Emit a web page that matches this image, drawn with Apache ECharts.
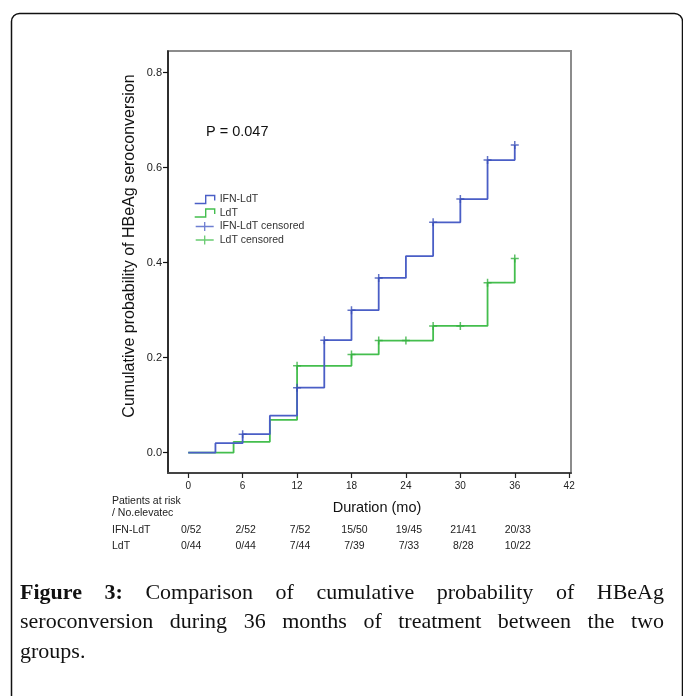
<!DOCTYPE html>
<html>
<head>
<meta charset="utf-8">
<script src="https://cdn.jsdelivr.net/npm/echarts@6/dist/echarts.min.js"></script>
<style>
  html, body { margin: 0; padding: 0; background: #fff; }
  #chart { width: 683px; height: 696px; }
</style>
</head>
<body>
<div id="chart"></div>
<script>
// Kaplan-Meier steps: month where the curve jumps, and the new level
var ifnMonths = [0, 3, 6, 9, 12, 15, 18, 21, 24, 27, 30, 33, 36];
var ifnValues = [0, 0.020, 0.039, 0.078, 0.137, 0.237, 0.300, 0.368, 0.414, 0.485, 0.534, 0.616, 0.648];
var ldtMonths = [0, 5, 9, 12, 18, 21, 27, 33, 36];
var ldtValues = [0, 0.023, 0.069, 0.183, 0.207, 0.236, 0.267, 0.358, 0.409];

// censored marks
var ifnCensorMonths = [6, 12, 15, 18, 21, 27, 30, 33, 36];
var ifnCensorValues = [0.039, 0.137, 0.237, 0.300, 0.368, 0.485, 0.534, 0.616, 0.648];
var ldtCensorMonths = [12, 18, 21, 24, 27, 30, 33, 36];
var ldtCensorValues = [0.183, 0.207, 0.236, 0.236, 0.267, 0.267, 0.358, 0.409];

var xTicks = [0, 6, 12, 18, 24, 30, 36, 42];
var yTicks = [0, 0.2, 0.4, 0.6, 0.8];

// patients at risk table
var riskMonths = [0, 6, 12, 18, 24, 30, 36];
var ifnRisk = ['0/52', '2/52', '7/52', '15/50', '19/45', '21/41', '20/33'];
var ldtRisk = ['0/44', '0/44', '7/44', '7/39', '7/33', '8/28', '10/22'];

var BLUE = '#4a5ec6';
var GREEN = '#44be4e';
var SANS = '"Liberation Sans", Arial, sans-serif';
var SERIF = '"Liberation Serif", "Times New Roman", serif';
var crossIcon = 'path://M0,5L10,5M5,0L5,10';
var crossLegend = 'path://M0,5L20,5M10,0L10,10';
var stepIcon = 'path://M0,9L11,9L11,1L20,1L20,6';

function zip(a, b) {
  return a.map(function (v, i) { return [v, b[i]]; });
}

var chart = echarts.init(document.getElementById('chart'));

var option = {
  animation: false,
  grid: {
    left: 168, top: 51, width: 403, height: 422,
    show: true, borderColor: '#8c8c8c', borderWidth: 2
  },
  xAxis: {
    type: 'value', min: -2.23, max: 42.2,
    axisLine: { onZero: false, lineStyle: { color: '#444', width: 2 } },
    axisTick: { show: true, customValues: xTicks, length: 5, lineStyle: { color: '#222', width: 1.2 } },
    axisLabel: { customValues: xTicks, fontSize: 10, color: '#222', margin: 8, fontFamily: SANS },
    splitLine: { show: false }
  },
  yAxis: {
    type: 'value', min: -0.0427, max: 0.8457,
    axisLine: { show: true, onZero: false, lineStyle: { color: '#111', width: 1.5 } },
    axisTick: { show: true, customValues: yTicks, length: 5, lineStyle: { color: '#111', width: 1.2 } },
    axisLabel: {
      customValues: yTicks, fontSize: 11, color: '#222', margin: 6, fontFamily: SANS,
      formatter: function (v) { return v.toFixed(1); }
    },
    splitLine: { show: false }
  },
  legend: {
    orient: 'vertical', left: 194, top: 193, padding: 0,
    itemWidth: 20, itemHeight: 9, itemGap: 0.5,
    textStyle: { fontSize: 10.5, color: '#333', fontFamily: SANS, lineHeight: 13 },
    data: [
      { name: 'IFN-LdT', icon: stepIcon, itemStyle: { color: 'transparent', borderColor: BLUE, borderWidth: 1.4 } },
      { name: 'LdT', icon: stepIcon, itemStyle: { color: 'transparent', borderColor: GREEN, borderWidth: 1.4 } },
      { name: 'IFN-LdT censored', icon: crossLegend, itemStyle: { color: 'transparent', borderColor: BLUE, borderWidth: 1.3 } },
      { name: 'LdT censored', icon: crossLegend, itemStyle: { color: 'transparent', borderColor: GREEN, borderWidth: 1.3 } }
    ]
  },
  series: [
    {
      name: 'LdT', type: 'line', step: 'end', symbol: 'none',
      data: zip(ldtMonths, ldtValues),
      lineStyle: { color: GREEN, width: 1.8 }, itemStyle: { color: GREEN }, z: 2
    },
    {
      name: 'IFN-LdT', type: 'line', step: 'end', symbol: 'none',
      data: zip(ifnMonths, ifnValues),
      lineStyle: { color: BLUE, width: 1.8 }, itemStyle: { color: BLUE }, z: 3
    },
    {
      name: 'IFN-LdT censored', type: 'scatter', symbol: crossIcon, symbolSize: 8,
      data: zip(ifnCensorMonths, ifnCensorValues),
      itemStyle: { color: 'transparent', borderColor: '#3a4fb8', borderWidth: 1.5 }, z: 4
    },
    {
      name: 'LdT censored', type: 'scatter', symbol: crossIcon, symbolSize: 8,
      data: zip(ldtCensorMonths, ldtCensorValues),
      itemStyle: { color: 'transparent', borderColor: '#35b040', borderWidth: 1.5 }, z: 4
    }
  ]
};
chart.setOption(option);

// text measuring for the justified caption
var ctx = document.createElement('canvas').getContext('2d');
function measure(t, bold, size) {
  ctx.font = (bold ? 'bold ' : '') + size + 'px ' + SERIF;
  return ctx.measureText(t).width;
}
function captionLine(parts, y, x0, x1, justify) {
  var size = 22;
  var widths = parts.map(function (p) { return measure(p.t, p.bold, size); });
  var total = widths.reduce(function (a, b) { return a + b; }, 0);
  var gap = justify ? (x1 - x0 - total) / (parts.length - 1) : measure(' ', false, size);
  var x = x0;
  return parts.map(function (p, i) {
    var el = {
      type: 'text', x: x, y: y,
      style: {
        text: p.t, fontSize: size, fontFamily: SERIF, fontWeight: p.bold ? 'bold' : 'normal',
        fill: '#111', verticalAlign: 'middle'
      }
    };
    x += widths[i] + gap;
    return el;
  });
}
function words(s, bold) {
  return s.split(' ').map(function (t) { return { t: t, bold: bold }; });
}

var graphics = [
  {
    type: 'rect', shape: { x: 11.5, y: 13.5, width: 671, height: 720, r: 8 },
    style: { fill: 'none', stroke: '#111', lineWidth: 1.5 }, silent: true
  },
  {
    type: 'text', x: 206, y: 132,
    style: { text: 'P = 0.047', fontSize: 14.5, fontFamily: SANS, fill: '#111', verticalAlign: 'middle' }
  },
  {
    type: 'text', x: 130, y: 246, rotation: Math.PI / 2,
    style: {
      text: 'Cumulative probability of HBeAg seroconversion', fontSize: 16, fontFamily: SANS,
      fill: '#111', align: 'center', verticalAlign: 'middle'
    }
  },
  {
    type: 'text', x: 377, y: 508,
    style: { text: 'Duration (mo)', fontSize: 14.5, fontFamily: SANS, fill: '#111', align: 'center', verticalAlign: 'middle' }
  },
  {
    type: 'text', x: 112, y: 501,
    style: { text: 'Patients at risk', fontSize: 10.5, fontFamily: SANS, fill: '#222', verticalAlign: 'middle' }
  },
  {
    type: 'text', x: 112, y: 513.5,
    style: { text: '/ No.elevatec', fontSize: 10.5, fontFamily: SANS, fill: '#222', verticalAlign: 'middle' }
  },
  {
    type: 'text', x: 112, y: 530,
    style: { text: 'IFN-LdT', fontSize: 10.5, fontFamily: SANS, fill: '#222', verticalAlign: 'middle' }
  },
  {
    type: 'text', x: 112, y: 546,
    style: { text: 'LdT', fontSize: 10.5, fontFamily: SANS, fill: '#222', verticalAlign: 'middle' }
  }
];

riskMonths.forEach(function (m, i) {
  var px = chart.convertToPixel({ xAxisIndex: 0 }, m) + 3;
  graphics.push({
    type: 'text', x: px, y: 530,
    style: { text: ifnRisk[i], fontSize: 10.5, fontFamily: SANS, fill: '#222', align: 'center', verticalAlign: 'middle' }
  });
  graphics.push({
    type: 'text', x: px, y: 546,
    style: { text: ldtRisk[i], fontSize: 10.5, fontFamily: SANS, fill: '#222', align: 'center', verticalAlign: 'middle' }
  });
});

var line1 = [{ t: 'Figure', bold: true }, { t: '3:', bold: true }].concat(words('Comparison of cumulative probability of HBeAg', false));
var line2 = words('seroconversion during 36 months of treatment between the two', false);
var line3 = words('groups.', false);
graphics = graphics
  .concat(captionLine(line1, 593, 20, 664, true))
  .concat(captionLine(line2, 622.5, 20, 664, true))
  .concat(captionLine(line3, 652, 20, 664, false));

chart.setOption({ graphic: graphics });
</script>
</body>
</html>
